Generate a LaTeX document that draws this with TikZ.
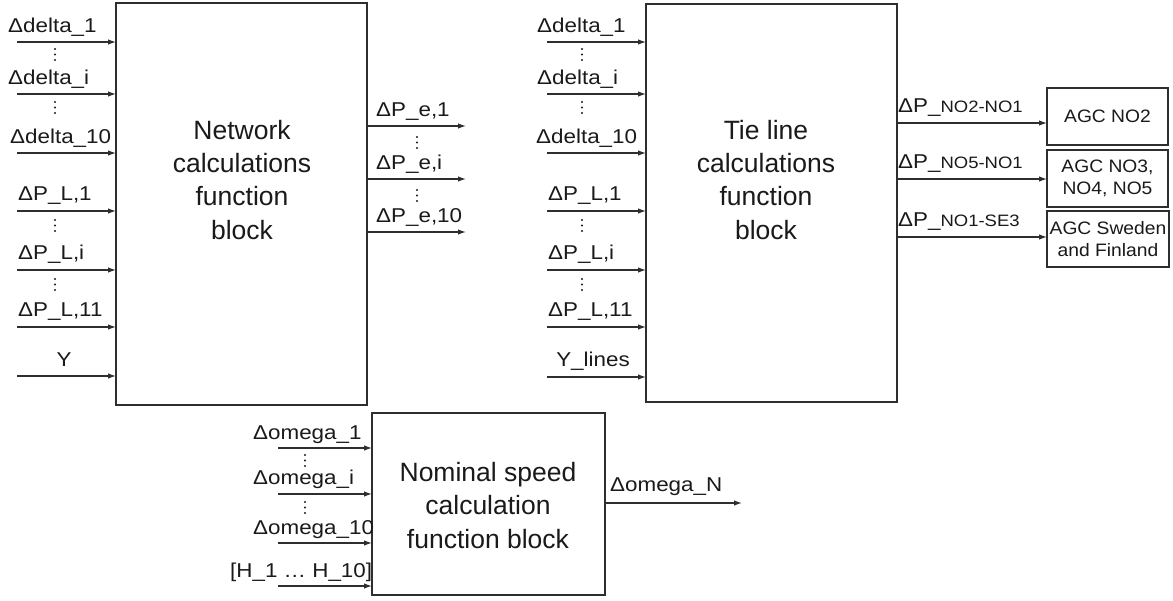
\documentclass[tikz,border=0pt]{standalone}
\usepackage{fontspec}
\setmainfont{Liberation Sans}
\newfontfamily\lblfont[FakeStretch=1.12]{Liberation Sans}
\newfontfamily\agcfont[FakeStretch=1.07]{Liberation Sans}
\usetikzlibrary{arrows.meta}
\definecolor{linecol}{HTML}{2E2E2E}
\definecolor{txtcol}{HTML}{1A1A1A}

% a vertical stack of three dots
\newcommand\dotstack[2]{%
  \foreach \k in {0,1,2} \fill[txtcol] (#1,#2+5.5*\k) circle (1.15pt);}

\tikzset{
  blockbox/.style={draw=linecol, line width=1.2pt, fill=white, inner sep=0pt, outer sep=0pt},
  agcbox/.style={blockbox, align=center, text=txtcol,
    font=\agcfont\fontsize{18}{22}\selectfont},
  lbl/.style={font=\lblfont\fontsize{20}{22}\selectfont, inner sep=0pt, anchor=base west, text=txtcol},
  clbl/.style={lbl, anchor=base},
  arr/.style={draw=linecol, line width=1.2pt, -{Latex[length=8pt,width=5.5pt]}},
  bigtext/.style={font=\fontsize{26.5}{33.3}\selectfont, align=center, inner sep=0pt,
    anchor=north, text=txtcol},
}

\begin{document}
\begin{tikzpicture}[x=1pt, y=-1pt]
\fill[white] (0,0) rectangle (1173,601);
\useasboundingbox (0,0) rectangle (1173,601);

% ---------- blocks ----------
\node[blockbox, minimum width=251pt, minimum height=402pt] (net) at (241.5,204) {};
\node[blockbox, minimum width=251pt, minimum height=398pt] (tie) at (771.5,203) {};
\node[blockbox, minimum width=233pt, minimum height=182pt] (nom) at (488.5,504) {};

\node[bigtext] (netT) at (242,120) {Network\\calculations\\function\\block};
\node[bigtext] (tieT) at (766,120) {Tie line\\calculations\\function\\block};
\node[bigtext] (nomT) at (488,462) {Nominal speed\\calculation\\function block};

% ---------- AGC boxes ----------
\node[agcbox, minimum width=121pt, minimum height=57pt] (agc1) at (1107.5,116.5) {AGC NO2};
\node[agcbox, minimum width=121pt, minimum height=57pt] (agc2) at (1107.5,178.5) {AGC NO3,\\NO4, NO5};
\node[agcbox, minimum width=122pt, minimum height=56pt] (agc3) at (1108,239) {AGC Sweden\\and Finland};

% ---------- network block inputs ----------
\foreach \y/\n in {42/d1, 94/di, 153/dt, 211/p1, 270/pi, 327/pe, 376/y} {
  \coordinate (nin\n) at (17,\y);
  \draw[arr] (nin\n) -- (nin\n -| net.west);
}
\node[lbl] (nlD1) at (8,33)  {Δdelta\_1};
\node[lbl] (nlDi) at (8,85)  {Δdelta\_i};
\node[lbl] (nlDt) at (10,144) {Δdelta\_10};
\node[lbl] (nlP1) at (18,201) {ΔP\_L,1};
\node[lbl] (nlPi) at (18,260) {ΔP\_L,i};
\node[lbl] (nlPe) at (18,317) {ΔP\_L,11};
\node[clbl] (nlY) at (64,367) {Y};
\dotstack{55}{49}
\dotstack{55}{102}
\dotstack{55}{220}
\dotstack{55}{279}

% ---------- network block outputs ----------
\foreach \y/\n in {126/1, 179/i, 232/t} {
  \coordinate (nout\n) at (466,\y);
  \draw[arr] (nout\n -| net.east) -- (nout\n);
}
\node[lbl] (nlE1) at (376,117) {ΔP\_e,1};
\node[lbl] (nlEi) at (376,170) {ΔP\_e,i};
\node[lbl] (nlEt) at (376,223) {ΔP\_e,10};
\dotstack{417}{137}
\dotstack{417}{190}

% ---------- tie line block inputs ----------
\foreach \y/\n in {42/d1, 94/di, 153/dt, 211/p1, 270/pi, 327/pe, 377/y} {
  \coordinate (tin\n) at (547,\y);
  \draw[arr] (tin\n) -- (tin\n -| tie.west);
}
\node[lbl] (tlD1) at (537,33)  {Δdelta\_1};
\node[lbl] (tlDi) at (537,85)  {Δdelta\_i};
\node[lbl] (tlDt) at (536,144) {Δdelta\_10};
\node[lbl] (tlP1) at (548,201) {ΔP\_L,1};
\node[lbl] (tlPi) at (548,260) {ΔP\_L,i};
\node[lbl] (tlPe) at (548,317) {ΔP\_L,11};
\node[clbl] (tlY) at (593,367) {Y\_lines};
\dotstack{582}{49}
\dotstack{582}{102}
\dotstack{582}{220}
\dotstack{582}{279}

% ---------- tie line block outputs ----------
\coordinate (tout1) at (897,123);
\coordinate (tout2) at (897,179);
\coordinate (tout3) at (897,237);
\draw[arr] (tout1) -- (tout1 -| agc1.west);
\draw[arr] (tout2) -- (tout2 -| agc2.west);
\draw[arr] (tout3) -- (tout3 -| agc3.west);
\node[lbl] (tlO1) at (898,113) {ΔP\_{\fontsize{16.5}{19}\selectfont NO2-NO1}};
\node[lbl] (tlO2) at (898,169) {ΔP\_{\fontsize{16.5}{19}\selectfont NO5-NO1}};
\node[lbl] (tlO3) at (898,227) {ΔP\_{\fontsize{16.5}{19}\selectfont NO1-SE3}};

% ---------- nominal speed block ----------
\foreach \y/\n in {448/1, 494/i, 543/t, 586/h} {
  \coordinate (win\n) at (278,\y);
  \draw[arr] (win\n) -- (win\n -| nom.west);
}
\node[lbl] (wl1) at (253,439) {Δomega\_1};
\node[lbl] (wli) at (253,485) {Δomega\_i};
\node[lbl] (wlt) at (253,534) {Δomega\_10};
\node[lbl] (wlh) at (230,577) {[H\_1 … H\_10]};
\dotstack{305}{455}
\dotstack{305}{502}

\coordinate (wout) at (742,503);
\draw[arr] (wout -| nom.east) -- (wout);
\node[lbl] (wlN) at (610,491) {Δomega\_N};
\end{tikzpicture}
\end{document}
